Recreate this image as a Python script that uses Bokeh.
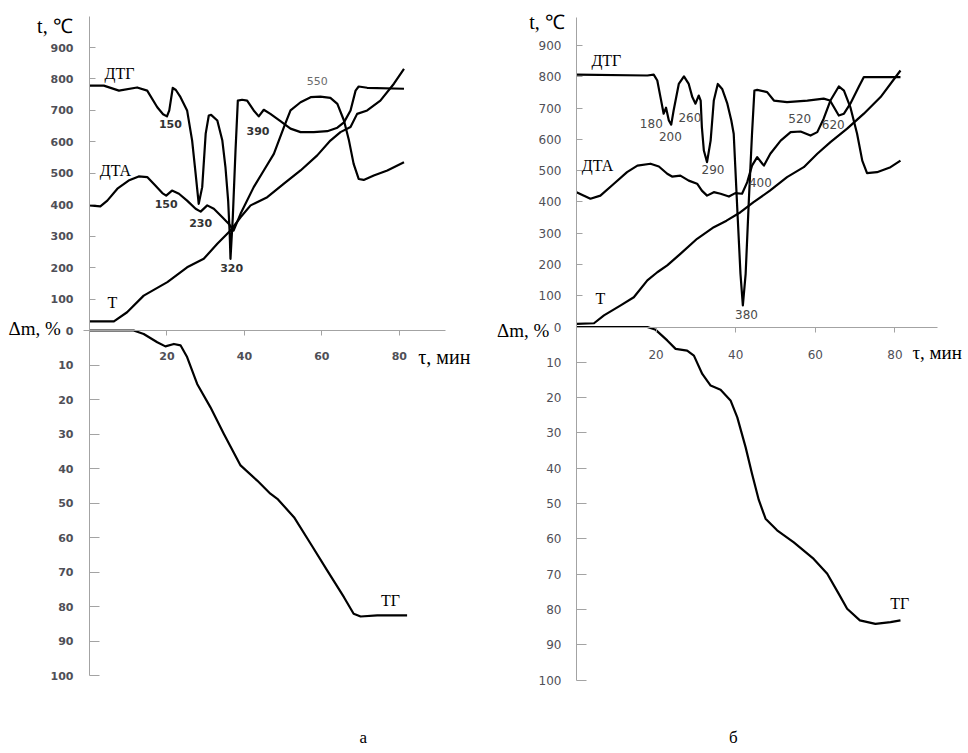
from bokeh.plotting import figure
from bokeh.models import Range1d, LinearAxis, FixedTicker
from bokeh.layouts import row
from bokeh.core.properties import value
from bokeh.embed import file_html
from bokeh.resources import INLINE

# ---------------- data: panel "а" ----------------
a_dtg_t = [0, 3.7, 7.6, 12.3, 14.9, 17.5, 19.0, 20.0, 20.6, 21.5, 22.3, 23.5, 25.2, 26.5, 27.4,
           28.2, 29.1, 30.0, 30.8, 31.4, 33.0, 34.3, 35.1, 35.8, 36.2, 36.4, 37.0, 37.7, 38.3, 39.4,
           40.7, 42.4, 43.7, 45.0, 46.7, 49.3, 51.9, 54.5, 57.9, 61.4, 64.0, 65.7, 67.4, 68.7, 69.5,
           71.7, 81.2]
a_dtg_v = [779, 779, 763, 773, 763, 710, 688, 681, 700, 772, 765, 742, 700, 604, 499,
           403, 456, 626, 684, 686, 668, 604, 520, 413, 308, 228, 360, 572, 731, 734,
           731, 700, 681, 702, 689, 666, 642, 631, 631, 634, 645, 662, 700, 763, 776,
           772, 769]
a_dta_t = [0, 2.8, 4.6, 7.2, 10.1, 12.7, 14.9, 17.0, 18.8, 19.8, 21.3, 23.1, 25.2, 27.4, 28.7,
           30.4, 32.1, 34.3, 36.0, 37.2, 39.0, 42.4, 45.0, 47.6, 50.2, 51.9, 54.5, 57.1, 59.6,
           62.2, 64.0, 65.7, 67.0, 68.2, 69.5, 70.8, 73.4, 76.9, 81.2]
a_dta_v = [398, 395, 413, 451, 477, 490, 488, 461, 437, 429, 445, 435, 413, 387, 378,
           398, 387, 360, 339, 318, 371, 456, 509, 562, 647, 700, 726, 742, 744,
           740, 721, 668, 604, 530, 482, 479, 493, 509, 535]
a_T_t = [0, 6.3, 9.7, 14.0, 20.1, 25.2, 29.5, 33.0, 36.4, 39.0, 41.6, 45.9, 50.2, 54.5, 58.8,
         62.2, 64.8, 67.4, 69.1, 71.7, 75.1, 78.6, 81.2]
a_T_v = [29, 29, 58, 111, 154, 201, 228, 276, 318, 360, 398, 424, 467, 509, 557,
         604, 631, 647, 689, 700, 731, 785, 832]
a_tg_t = [0, 11.4, 14.0, 17.5, 19.6, 21.8, 23.5, 25.2, 27.8, 31.2, 34.7, 39.0, 43.3, 46.7, 48.5,
          52.8, 57.1, 61.4, 65.7, 68.2, 70.0, 74.3, 82.0]
a_tg_m = [0, 0, 1.0, 3.4, 4.6, 3.9, 4.3, 7.7, 15.5, 22.2, 30.0, 39.1, 43.5, 47.3, 48.8,
          54.1, 61.8, 69.6, 77.3, 82.1, 82.9, 82.6, 82.6]

# ---------------- data: panel "б" ----------------
b_dtg_t = [0, 17.8, 19.4, 20.3, 21.1, 21.9, 22.5, 23.2, 23.8, 24.4, 25.7, 27.0, 28.2, 29.1, 29.9,
           30.7, 31.2, 31.5, 32.0, 32.8, 33.7, 34.5, 35.5, 36.6, 37.9, 38.9, 39.5, 39.9, 40.5, 41.2,
           41.8, 42.5, 43.3, 44.1, 44.7, 45.4, 47.9, 49.6, 52.9, 58.0, 62.1, 63.7, 65.9, 67.2, 68.8,
           70.9, 72.2, 81.4]
b_dtg_v = [807, 804, 807, 788, 735, 682, 701, 660, 647, 692, 777, 801, 777, 735, 714,
           740, 724, 639, 564, 527, 596, 724, 777, 761, 714, 660, 618, 511, 351, 170,
           69, 170, 404, 618, 756, 758, 751, 724, 719, 724, 730, 724, 676, 682, 714,
           767, 799, 799]
b_dta_t = [0, 3.5, 6.0, 9.4, 12.7, 15.3, 18.6, 20.7, 22.8, 24.0, 26.1, 28.2, 30.3, 31.5, 32.8,
           34.5, 36.2, 38.3, 39.9, 41.6, 42.9, 44.1, 45.4, 46.7, 47.1, 48.7, 51.3, 53.8, 56.3, 58.8,
           60.5, 62.1, 63.8, 65.9, 67.2, 68.8, 70.5, 71.8, 73.0, 75.5, 78.9, 81.4]
b_dta_v = [431, 410, 420, 458, 495, 516, 522, 513, 490, 481, 484, 468, 458, 436, 420,
           431, 426, 417, 428, 426, 463, 516, 543, 522, 516, 554, 596, 623, 625, 612,
           623, 666, 724, 769, 756, 703, 618, 532, 492, 495, 511, 532]
b_T_t = [0, 4.4, 6.9, 11.1, 14.4, 17.8, 20.3, 22.8, 26.1, 30.3, 34.5, 37.7, 41.2, 44.5, 48.6,
         52.9, 57.1, 60.5, 63.8, 68.0, 72.2, 76.4, 81.4]
b_T_v = [10, 12, 37, 69, 95, 149, 175, 197, 234, 282, 319, 340, 367, 399, 436,
         479, 511, 554, 591, 634, 682, 735, 820]
b_tg_t = [0, 17.8, 19.9, 22.8, 24.9, 27.8, 29.5, 31.6, 33.7, 36.2, 38.7, 40.4, 42.5, 44.1, 45.8,
          47.5, 50.4, 54.6, 59.6, 63.0, 65.9, 68.0, 71.2, 75.1, 78.9, 81.4]
b_tg_m = [0, 0, 0.8, 3.8, 6.2, 6.7, 8.1, 13.3, 16.6, 17.8, 20.8, 25.6, 34.1, 41.6, 49.0,
          54.3, 57.6, 61.0, 65.7, 69.9, 75.6, 79.8, 83.1, 84.1, 83.6, 83.1]

# ---------------- ticks ----------------
time_ticks = [20, 40, 60, 80]
temp_ticks = [0, 100, 200, 300, 400, 500, 600, 700, 800, 900]
mass_ticks = [10, 20, 30, 40, 50, 60, 70, 80, 90, 100]

# peak labels: (time, temperature, text)
a_peaks_t = [20.9, 19.8, 28.7, 36.7, 43.5]
a_peaks_v = [657, 401, 341, 198, 634]
a_peaks_s = ["150", "150", "230", "320", "390"]
a_peak2_t = [58.8]
a_peak2_v = [795]
a_peak2_s = ["550"]
b_peaks_t = [18.8, 23.6, 28.5, 34.3, 42.7, 46.2, 56.1, 64.5]
b_peaks_v = [650, 609, 671, 503, 39, 463, 668, 646]
b_peaks_s = ["180", "200", "260", "290", "380", "400", "520", "620"]

FIG_H = 750
AXIS_GREY = "#a3a3a3"
TICK_TXT = "#4f4f57"


def style_axis(ax, cfg, stand):
    ax.minor_tick_in = 0
    ax.minor_tick_out = 0
    ax.axis_line_color = AXIS_GREY
    ax.major_tick_line_color = AXIS_GREY
    ax.major_label_standoff = stand
    ax.major_label_text_font = "DejaVu Sans"
    ax.major_label_text_font_size = cfg["tickfs"]
    ax.major_label_text_font_style = cfg["tickstyle"]
    ax.major_label_text_color = TICK_TXT


def make_panel(cfg, dtg, dta, T, tg, peaks, peaks2, caption):
    W = cfg["W"]
    x0px, sx, t0px, st, sm = cfg["x0px"], cfg["sx"], cfg["t0px"], cfg["st"], cfg["sm"]
    xs = -x0px / sx
    xe = xs + W / sx
    ttop = t0px / st
    tbot = -(FIG_H - t0px) / st
    mtop = -t0px / sm
    mbot = (FIG_H - t0px) / sm
    p = figure(width=W, height=FIG_H, x_range=Range1d(xs, xe), y_range=Range1d(tbot, ttop),
               output_backend="svg", toolbar_location=None, min_border=0,
               background_fill_color="white", border_fill_color="white")
    p.title.visible = False
    p.outline_line_color = None
    p.grid.visible = False
    p.extra_y_ranges = {"m": Range1d(start=mbot, end=mtop)}

    xa = p.xaxis[0]
    xa.fixed_location = 0
    xa.bounds = cfg["xbounds"]
    xa.ticker = FixedTicker(ticks=time_ticks)
    xa.major_tick_out = 5
    xa.major_tick_in = 0
    style_axis(xa, cfg, cfg["xstand"])

    ya = p.yaxis[0]
    ya.fixed_location = 0
    ya.bounds = (0, cfg["ttop"])
    ya.ticker = FixedTicker(ticks=temp_ticks)
    ya.major_tick_in = 6
    ya.major_tick_out = 0
    style_axis(ya, cfg, cfg["ystand"])

    ma = LinearAxis(y_range_name="m", fixed_location=0, bounds=(0, 100),
                    ticker=FixedTicker(ticks=mass_ticks))
    ma.major_tick_in = 10
    ma.major_tick_out = 0
    style_axis(ma, cfg, cfg["ystand"])
    p.add_layout(ma, "left")

    lw = 2.2
    for (tx, ty) in (dtg, dta, T):
        p.line(tx, ty, line_color="black", line_width=lw, line_join="round")
    p.line(tg[0], tg[1], line_color="black", line_width=lw, line_join="round", y_range_name="m")

    p.text(peaks[0], peaks[1], text=peaks[2], text_font=value("DejaVu Sans"),
           text_font_size=cfg["peakfs"], text_font_style=cfg["peakstyle"],
           text_color=cfg["peakcol"], text_align="center", text_baseline="middle")
    if peaks2 is not None:
        p.text(peaks2[0], peaks2[1], text=peaks2[2], text_font=value("DejaVu Sans"),
               text_font_size="11px", text_color="#6b6b6b", text_align="center",
               text_baseline="middle")

    serif = value("Liberation Serif")
    lab = cfg["labels"]
    p.text([lab["dtg"][0], lab["dta"][0], lab["T"][0]], [lab["dtg"][1], lab["dta"][1], lab["T"][1]],
           text=["ДТГ", "ДТА", "Т"], text_font=serif, text_font_size="16px",
           text_color="black", text_align="center", text_baseline="middle")
    p.text([lab["tg"][0]], [lab["tg"][1]], text=["ТГ"], text_font=serif, text_font_size="16px",
           text_color="black", text_align="center", text_baseline="middle", y_range_name="m")
    p.text([lab["tC"][0]], [lab["tC"][1]], text=["t,  ℃"], text_font=serif, text_font_size="20px",
           text_color="black", text_align="center", text_baseline="middle")
    p.text([lab["dm"][0]], [lab["dm"][1]], text=["Δm, %"], text_font=serif, text_font_size="19px",
           text_color="black", text_align="right", text_baseline="middle")
    p.text([lab["tau"][0]], [lab["tau"][1]], text=["τ, мин"], text_font=serif,
           text_font_size=cfg["taufs"], text_color="black", text_align="left",
           text_baseline="middle", y_range_name="m")
    p.text([lab["cap"][0]], [lab["cap"][1]], text=[caption], text_font=serif, text_font_size="17px",
           text_color="black", text_align="center", text_baseline="middle", y_range_name="m")
    return p


cfg_a = dict(W=484, x0px=89, sx=3.873, t0px=330, st=0.3144, sm=3.45, xbounds=(-1.5, 92),
             ttop=1000, xstand=16, ystand=16, tickfs="11px", tickstyle="bold", peakfs="11px",
             peakstyle="bold", peakcol="#333333", taufs="20px",
             labels=dict(dtg=(7.75, 817), dta=(6.7, 509), T=(5.9, 89), tg=(77.7, 78.3),
                         tC=(-8.3, 970), dm=(-7.4, 6), tau=(84.9, 7.8), cap=(70.7, 118.0)))
cfg_b = dict(W=484, x0px=92, sx=3.98, t0px=326.5, st=0.3128, sm=3.53, xbounds=(0, 90.7),
             ttop=990, xstand=18, ystand=15, tickfs="12px", tickstyle="normal", peakfs="12px",
             peakstyle="normal", peakcol="#4a4a4a", taufs="19px",
             labels=dict(dtg=(7.5, 852), dta=(5.3, 516), T=(6.0, 91), tg=(81.2, 78.3),
                         tC=(-6.8, 975), dm=(-6.8, -11), tau=(84.4, 7.2), cap=(39.4, 116.4)))

pa = make_panel(cfg_a, (a_dtg_t, a_dtg_v), (a_dta_t, a_dta_v), (a_T_t, a_T_v), (a_tg_t, a_tg_m),
                (a_peaks_t, a_peaks_v, a_peaks_s), (a_peak2_t, a_peak2_v, a_peak2_s), "а")
pb = make_panel(cfg_b, (b_dtg_t, b_dtg_v), (b_dta_t, b_dta_v), (b_T_t, b_T_v), (b_tg_t, b_tg_m),
                (b_peaks_t, b_peaks_v, b_peaks_s), None, "б")

layout = row(pa, pb)
open("out.html", "w").write(file_html(layout, INLINE))
